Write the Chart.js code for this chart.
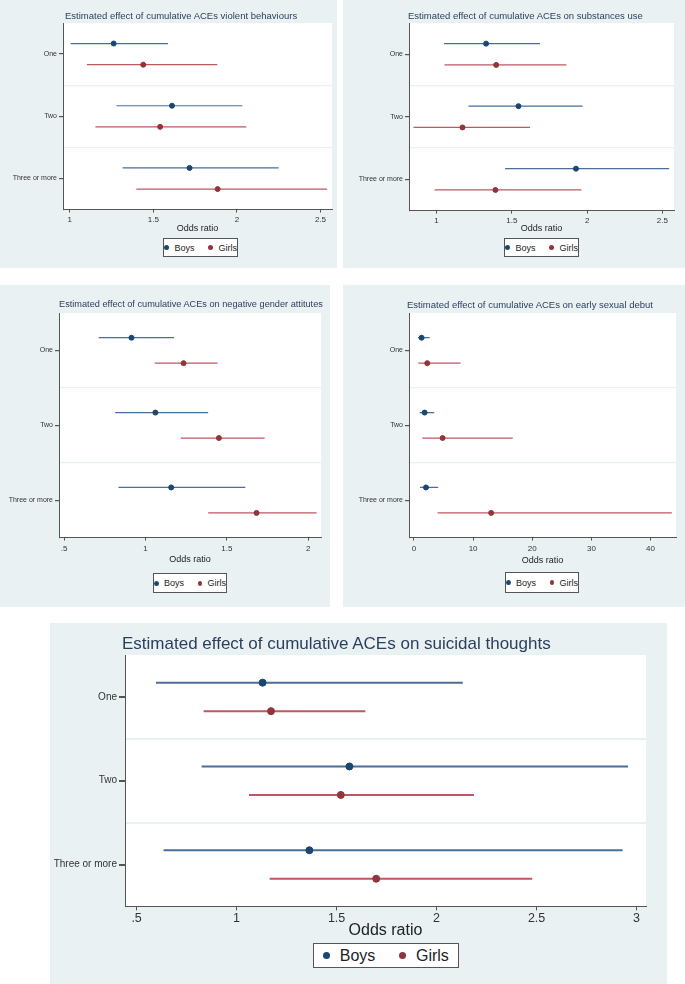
<!DOCTYPE html>
<html>
<head>
<meta charset="utf-8">
<script src="https://cdn.jsdelivr.net/npm/chart.js@4.4.0/dist/chart.umd.min.js"></script>
<style>
body { margin:0; background:#fff; width:685px; height:984px; position:relative; overflow:hidden; font-family:"Liberation Sans", Arial, sans-serif; }
.panel { position:absolute; background:#e9f1f3; }
.panel canvas { position:absolute; left:0; top:0; }
.ttl { position:absolute; white-space:nowrap; color:#2b3f5c; line-height:1; }
.leg { position:absolute; background:#fff; border:1px solid #555; box-sizing:border-box; display:flex; align-items:center; justify-content:center; color:#222; }
.leg span.dot { display:inline-block; border-radius:50%; }
</style>
</head>
<body>
<script>
const groups = ['One', 'Two', 'Three or more']
const sexes = ['Boys', 'Girls']

// violent behaviours
const violentBoys = [1.263, 1.612, 1.717]
const violentBoysLo = [1.006, 1.28, 1.316]
const violentBoysHi = [1.588, 2.033, 2.25]
const violentGirls = [1.44, 1.541, 1.885]
const violentGirlsLo = [1.103, 1.154, 1.399]
const violentGirlsHi = [1.883, 2.056, 2.54]
const violentTicks = [1, 1.5, 2, 2.5]

// substances use
const substBoys = [1.329, 1.544, 1.926]
const substBoysLo = [1.049, 1.212, 1.455]
const substBoysHi = [1.687, 1.97, 2.545]
const substGirls = [1.396, 1.172, 1.391]
const substGirlsLo = [1.053, 0.847, 0.987]
const substGirlsHi = [1.862, 1.621, 1.962]
const substTicks = [1, 1.5, 2, 2.5]

// negative gender attitudes
const genderBoys = [0.914, 1.061, 1.158]
const genderBoysLo = [0.713, 0.814, 0.834]
const genderBoysHi = [1.176, 1.385, 1.613]
const genderGirls = [1.234, 1.451, 1.682]
const genderGirlsLo = [1.057, 1.217, 1.385]
const genderGirlsHi = [1.443, 1.732, 2.051]
const genderTicks = [0.5, 1, 1.5, 2]

// early sexual debut
const debutBoys = [1.29, 1.8, 2.03]
const debutBoysLo = [0.68, 0.96, 1.01]
const debutBoysHi = [2.64, 3.43, 4.1]
const debutGirls = [2.25, 4.84, 13.05]
const debutGirlsLo = [0.73, 1.41, 3.99]
const debutGirlsHi = [7.88, 16.7, 43.6]
const debutTicks = [0, 10, 20, 30, 40]

// suicidal thoughts
const suicBoys = [1.13, 1.564, 1.364]
const suicBoysLo = [0.597, 0.825, 0.635]
const suicBoysHi = [2.131, 2.957, 2.93]
const suicGirls = [1.172, 1.521, 1.698]
const suicGirlsLo = [0.835, 1.062, 1.165]
const suicGirlsHi = [1.644, 2.187, 2.478]
const suicTicks = [0.5, 1, 1.5, 2, 2.5, 3]

const colors = {
  Boys: { dot: '#1a476f', line: '#4a6e98' },
  Girls: { dot: '#90353b', line: '#bb5860' }
}

const small = { title: 9.5, tick: 8, ylab: 7, axis: 9, legend: 9, r: 2.5, lw: 1.2, ytl: 4, xtl: 3 }
const big = { title: 17, tick: 12.5, ylab: 10, axis: 16, legend: 16, r: 3.5, lw: 2, ytl: 6, xtl: 4 }

const panels = [
  { title: 'Estimated effect of cumulative ACEs violent behaviours',
    est: [violentBoys, violentGirls], lo: [violentBoysLo, violentGirlsLo], hi: [violentBoysHi, violentGirlsHi],
    ticks: violentTicks, range: [0.96, 2.569], sz: small, titleSize: 9.5,
    bg: [0, 0, 337, 268], plot: [63, 23, 335, 210], tickY: 220, axisY: 229,
    ttl: [65, 15.5], leg: [163, 238, 75, 19] },
  { title: 'Estimated effect of cumulative ACEs on substances use',
    est: [substBoys, substGirls], lo: [substBoysLo, substGirlsLo], hi: [substBoysHi, substGirlsHi],
    ticks: substTicks, range: [0.817, 2.577], sz: small, titleSize: 9.5,
    bg: [343, 0, 342, 268], plot: [409, 23, 674, 211], tickY: 221, axisY: 229,
    ttl: [408, 15.5], leg: [504, 238, 75, 19] },
  { title: 'Estimated effect of cumulative ACEs on negative gender attitutes',
    est: [genderBoys, genderGirls], lo: [genderBoysLo, genderGirlsLo], hi: [genderBoysHi, genderGirlsHi],
    ticks: genderTicks, range: [0.469, 2.078], sz: small, titleSize: 9.2,
    bg: [0, 285, 330, 322], plot: [59, 313, 321, 538], tickY: 549, axisY: 560,
    ttl: [59, 305], leg: [153, 573, 74, 20] },
  { title: 'Estimated effect of cumulative ACEs on early sexual debut',
    est: [debutBoys, debutGirls], lo: [debutBoysLo, debutGirlsLo], hi: [debutBoysHi, debutGirlsHi],
    ticks: debutTicks, range: [-0.84, 44.3], sz: small, titleSize: 9.5,
    bg: [343, 285, 342, 322], plot: [409, 313, 676, 538], tickY: 549, axisY: 561,
    ttl: [407, 305], leg: [505, 572, 74, 21] },
  { title: 'Estimated effect of cumulative ACEs on suicidal thoughts',
    est: [suicBoys, suicGirls], lo: [suicBoysLo, suicGirlsLo], hi: [suicBoysHi, suicGirlsHi],
    ticks: suicTicks, range: [0.442, 3.047], sz: big, titleSize: 17,
    bg: [50, 623, 617, 361], plot: [125, 655, 646, 906], tickY: 918, axisY: 930,
    ttl: [122, 643], leg: [313, 943, 146, 25] }
]

// white plot region
const plotBg = {
  id: 'plotBg',
  beforeDraw(chart) {
    const { ctx, chartArea: a } = chart
    ctx.save()
    ctx.fillStyle = '#fff'
    ctx.fillRect(a.left, a.top, a.width, a.height)
    ctx.restore()
  }
}

// stata style labels: .5 instead of 0.5
const fmt = v => (v > 0 && v < 1) ? String(v).slice(1) : String(v)

function makePanel(p) {
  const [bx, by, bw, bh] = p.bg
  const [pl, pt, pr, pb] = p.plot
  const s = p.sz

  const div = document.createElement('div')
  div.className = 'panel'
  Object.assign(div.style, { left: bx + 'px', top: by + 'px', width: bw + 'px', height: bh + 'px' })
  document.body.appendChild(div)

  const xh = p.axisY + s.axis * 0.6 - pb
  const canvas = document.createElement('canvas')
  canvas.width = bw
  canvas.height = Math.round(pb + xh - by)
  div.appendChild(canvas)

  const datasets = []
  sexes.forEach((sex, k) => {
    const off = k === 0 ? -0.17 : 0.17
    datasets.push({
      label: sex,
      data: groups.map((g, i) => ({ x: p.est[k][i], y: i + 1 + off })),
      backgroundColor: colors[sex].dot,
      borderColor: colors[sex].dot,
      pointRadius: s.r,
      order: 0
    })
    groups.forEach((g, i) => {
      datasets.push({
        label: sex + ' CI ' + g,
        data: [{ x: p.lo[k][i], y: i + 1 + off }, { x: p.hi[k][i], y: i + 1 + off }],
        showLine: true,
        borderColor: colors[sex].line,
        borderWidth: s.lw,
        pointRadius: 0,
        order: 1
      })
    })
  })

  const tickPad = p.tickY - s.tick * 0.6 - pb - s.xtl

  new Chart(canvas, {
    type: 'scatter',
    data: { datasets },
    options: {
      responsive: false,
      animation: false,
      layout: { padding: { left: 0, top: pt - by, right: bx + bw - pr, bottom: 0 } },
      plugins: { legend: { display: false }, tooltip: { enabled: false }, title: { display: false } },
      scales: {
        x: {
          type: 'linear',
          min: p.range[0],
          max: p.range[1],
          afterBuildTicks: sc => { sc.ticks = p.ticks.map(v => ({ value: v })) },
          afterFit: sc => { sc.height = xh },
          ticks: { callback: v => fmt(v), font: { size: s.tick }, color: '#333', padding: tickPad, autoSkip: false, maxRotation: 0 },
          grid: { drawOnChartArea: false, tickLength: s.xtl, tickColor: '#555' },
          border: { color: '#555' },
          title: { display: true, text: 'Odds ratio', font: { size: s.axis }, color: '#222', padding: { top: 0, bottom: 0 } }
        },
        y: {
          type: 'linear',
          min: 0.5,
          max: 3.5,
          reverse: true,
          afterBuildTicks: sc => { sc.ticks = [1, 1.5, 2, 2.5, 3].map(v => ({ value: v })) },
          afterFit: sc => { sc.width = pl - bx },
          ticks: {
            callback: v => Number.isInteger(v) ? groups[v - 1] : '',
            font: { size: s.ylab }, color: '#333', padding: 2, autoSkip: false
          },
          grid: {
            color: c => (c.tick && !Number.isInteger(c.tick.value)) ? '#e9f1f3' : 'rgba(0,0,0,0)',
            tickColor: c => (c.tick && Number.isInteger(c.tick.value)) ? '#555' : 'rgba(0,0,0,0)',
            lineWidth: s.lw,
            tickLength: s.ytl
          },
          border: { color: '#555' }
        }
      }
    },
    plugins: [plotBg]
  })

  const t = document.createElement('div')
  t.className = 'ttl'
  t.textContent = p.title
  Object.assign(t.style, { left: (p.ttl[0] - bx) + 'px', top: (p.ttl[1] - by - p.titleSize / 2) + 'px', fontSize: p.titleSize + 'px' })
  div.appendChild(t)

  const [lx, ly, lw, lh] = p.leg
  const leg = document.createElement('div')
  leg.className = 'leg'
  Object.assign(leg.style, { left: (lx - bx) + 'px', top: (ly - by) + 'px', width: lw + 'px', height: lh + 'px', fontSize: s.legend + 'px' })
  sexes.forEach((sex, k) => {
    const d = document.createElement('span')
    d.className = 'dot'
    const dd = s.r * 2
    Object.assign(d.style, { width: dd + 'px', height: dd + 'px', background: colors[sex].dot, marginRight: '0.6em', marginLeft: k ? '1.5em' : '0' })
    const lab = document.createElement('span')
    lab.textContent = sex
    leg.appendChild(d)
    leg.appendChild(lab)
  })
  div.appendChild(leg)
}

panels.forEach(makePanel)
</script>
</body>
</html>
